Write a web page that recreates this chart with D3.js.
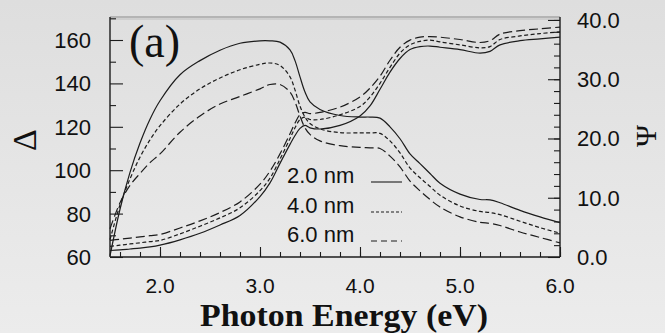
<!DOCTYPE html>
<html>
<head>
<meta charset="utf-8">
<script src="https://cdn.jsdelivr.net/npm/d3@7"></script>
<style>
  html, body { margin: 0; padding: 0; }
  body { width: 665px; height: 333px; overflow: hidden; }
  svg { display: block; }
</style>
</head>
<body>
<svg id="chart" width="665" height="333"></svg>
<script>
// ---- data ----
const energy = [1.5,1.6,1.7,1.8,1.9,2.0,2.2,2.4,2.6,2.8,3.0,3.1,3.2,3.3,3.35,3.4,3.45,3.5,3.6,3.8,4.0,4.1,4.2,4.3,4.4,4.5,4.6,4.7,4.8,5.0,5.2,5.3,5.4,5.6,5.8,6.0];

const delta2nm = [60.5,82,99,112.5,123.5,132,144,150.5,155.3,158.5,159.6,159.6,159,155.4,150.5,143,136,131.5,128,125.2,124.5,124.5,124,120,114.5,107.5,103,98.5,94,89,86.5,86.3,85,81.5,78.5,75.8];
const delta4nm = [68,84,96,106,114,120.5,130.5,137.5,142.5,146.3,148.8,149.4,148.3,143,137,129.5,124.5,121.5,119,117.3,117.2,117.2,117,113.5,108,101,96.5,92.5,88.5,83.5,81,80.5,79.5,76.5,73.5,71];
const delta6nm = [73,85,93,98.5,103.5,107.5,117.5,125,130.5,134,137.5,139.5,139.5,136,131.5,125,119.5,116.5,113.5,111.3,110.5,110.3,110,106.5,101.5,95,90.5,86.5,83,78.5,76,75.5,74.5,71.5,69,66.5];

const psi2nm = [1.1,1.2,1.35,1.5,1.7,2.0,2.9,4.0,5.4,7.0,10.2,12.5,15.8,19.0,20.5,21.7,22.2,21.8,21.6,22.2,23.8,25.5,28.3,31.2,33.5,35.0,35.5,35.6,35.4,35.0,34.4,34.7,35.8,36.5,36.8,37.1];
const psi4nm = [1.8,2.0,2.2,2.4,2.6,2.8,3.9,5.2,6.6,8.3,11.2,13.3,16.5,20.0,21.8,23.2,23.6,23.2,23.2,24.0,25.4,27.0,29.3,32.0,34.4,35.8,36.4,36.6,36.3,35.8,35.3,35.5,36.7,37.3,37.7,38.0];
const psi6nm = [2.8,3.0,3.2,3.4,3.6,3.8,4.9,6.1,7.5,9.3,12.3,14.5,17.4,20.8,22.6,24.0,24.4,24.2,24.4,25.3,27.0,28.5,30.5,33.2,35.4,36.6,37.1,37.2,37.1,36.7,36.2,36.5,37.6,38.2,38.5,38.8];

const thickness = ["2.0 nm", "4.0 nm", "6.0 nm"];
const xTicks = [2.0, 3.0, 4.0, 5.0, 6.0];
const leftTicks = [60, 80, 100, 120, 140, 160];
const rightTicks = [0, 10, 20, 30, 40];

// ---- layout ----
const svg = d3.select("#chart");
const L = 110, R = 560, T = 17, B = 257;
const x = d3.scaleLinear().domain([1.5, 6.0]).range([L, R]);
const yL = d3.scaleLinear().domain([60, 170.6]).range([B, T]);
const yR = d3.scaleLinear().domain([0, 40.5]).range([B, T]);

// background
const defs = svg.append("defs");
const grad = defs.append("linearGradient").attr("id","bg").attr("x1",0).attr("y1",0).attr("x2",0).attr("y2",1);
grad.append("stop").attr("offset","0%").attr("stop-color","#dedede");
grad.append("stop").attr("offset","100%").attr("stop-color","#ececec");
svg.append("rect").attr("width",665).attr("height",333).attr("fill","url(#bg)");

const ink = "#1c1c1c";
const sans = "'Liberation Sans', Arial, Helvetica, sans-serif";
const serif = "'Liberation Serif', 'Times New Roman', serif";

// frame
svg.append("line").attr("x1",L).attr("x2",R).attr("y1",T).attr("y2",T).attr("stroke","#8a8a8a").attr("stroke-width",1.2);
svg.append("line").attr("x1",L).attr("x2",R).attr("y1",T+2).attr("y2",T+2).attr("stroke","#b5b5b5").attr("stroke-width",0.8);
svg.append("line").attr("x1",L).attr("x2",L).attr("y1",T).attr("y2",B).attr("stroke",ink).attr("stroke-width",1.4);
svg.append("line").attr("x1",R).attr("x2",R).attr("y1",T).attr("y2",B).attr("stroke",ink).attr("stroke-width",1.4);
svg.append("line").attr("x1",L).attr("x2",R).attr("y1",B).attr("y2",B).attr("stroke",ink).attr("stroke-width",1.4);

// axes via d3 axis generators (inward ticks)
const bottomMinor = d3.axisTop(x).tickValues(d3.range(16, 61, 2).map(v => v/10)).tickSize(5).tickFormat("");
const bottomMajor = d3.axisTop(x).tickValues(xTicks).tickSize(10).tickFormat("");
const leftMinor = d3.axisRight(yL).tickValues(d3.range(70, 171, 20)).tickSize(6).tickFormat("");
const leftMajor = d3.axisRight(yL).tickValues(leftTicks).tickSize(13).tickFormat("");
const rightMinor = d3.axisLeft(yR).tickValues(d3.range(2, 41, 2)).tickSize(6).tickFormat("");
const rightMajor = d3.axisLeft(yR).tickValues(rightTicks).tickSize(12).tickFormat("");

function drawAxis(gen, tx, ty) {
  const g = svg.append("g").attr("transform", `translate(${tx},${ty})`).call(gen);
  g.select(".domain").remove();
  g.selectAll(".tick line").attr("stroke", ink).attr("stroke-width", 1.1);
  return g;
}
drawAxis(bottomMinor, 0, B);
drawAxis(bottomMajor, 0, B);
drawAxis(leftMinor, L, 0);
drawAxis(leftMajor, L, 0);
drawAxis(rightMinor, R, 0);
drawAxis(rightMajor, R, 0);

// tick labels
svg.append("g").selectAll("text").data(xTicks).join("text")
  .attr("x", d => x(d)).attr("y", 293)
  .attr("text-anchor","middle").attr("font-family",sans).attr("font-size",21).attr("fill","#111")
  .text(d => d.toFixed(1));
svg.append("g").selectAll("text").data(leftTicks).join("text")
  .attr("x", 91).attr("y", d => yL(d)).attr("dy","0.36em")
  .attr("text-anchor","end").attr("font-family",sans).attr("font-size",22).attr("fill","#111")
  .text(d => d);
svg.append("g").selectAll("text").data(rightTicks).join("text")
  .attr("x", 577).attr("y", d => yR(d)).attr("dy","0.36em")
  .attr("text-anchor","start").attr("font-family",sans).attr("font-size",22).attr("fill","#111")
  .text(d => d.toFixed(1));

// axis titles
svg.append("text").attr("x", 344).attr("y", 326).attr("text-anchor","middle")
  .attr("font-family",serif).attr("font-weight","bold").attr("font-size",32).attr("fill","#111")
  .attr("textLength", 288).attr("lengthAdjust","spacingAndGlyphs")
  .text("Photon Energy (eV)");
svg.append("text").attr("transform","translate(25,140) rotate(-90)")
  .attr("text-anchor","middle").attr("dy","0.33em")
  .attr("font-family",serif).attr("font-size",34).attr("fill","#111").text("Δ");
svg.append("text").attr("transform","translate(646,136) rotate(-90)")
  .attr("text-anchor","middle").attr("dy","0.33em")
  .attr("font-family",serif).attr("font-size",30).attr("fill","#111").text("Ψ");

// panel label
svg.append("text").attr("x",129).attr("y",57).attr("font-family",serif).attr("font-size",46).attr("fill","#111").text("(a)");

// curves
const dashes = [null, "4,2.5", "9,4"];
const deltaSeries = [delta2nm, delta4nm, delta6nm];
const psiSeries = [psi2nm, psi4nm, psi6nm];
const smooth = d3.curveCatmullRom.alpha(0.5);
const lineL = d3.line().x((d,i) => x(energy[i])).y(d => yL(d)).curve(smooth);
const lineR = d3.line().x((d,i) => x(energy[i])).y(d => yR(d)).curve(smooth);
const gC = svg.append("g");
deltaSeries.forEach((s, k) => {
  gC.append("path").attr("d", lineL(s)).attr("fill","none").attr("stroke",ink)
    .attr("stroke-width",1.2).attr("stroke-dasharray", dashes[k]);
});
psiSeries.forEach((s, k) => {
  gC.append("path").attr("d", lineR(s)).attr("fill","none").attr("stroke",ink)
    .attr("stroke-width",1.2).attr("stroke-dasharray", dashes[k]);
});

// legend
const legY = [183, 213, 242];
const leg = svg.append("g");
thickness.forEach((t, k) => {
  leg.append("text").attr("x", 287).attr("y", legY[k]).attr("font-family",sans).attr("font-size",22).attr("fill","#111").text(t);
  leg.append("line").attr("x1",371).attr("x2",402).attr("y1",legY[k]-1).attr("y2",legY[k]-1)
    .attr("stroke",ink).attr("stroke-width",1.1).attr("stroke-dasharray", k===1 ? "3,2" : (k===2 ? "6,4" : null));
});
</script>
</body>
</html>
